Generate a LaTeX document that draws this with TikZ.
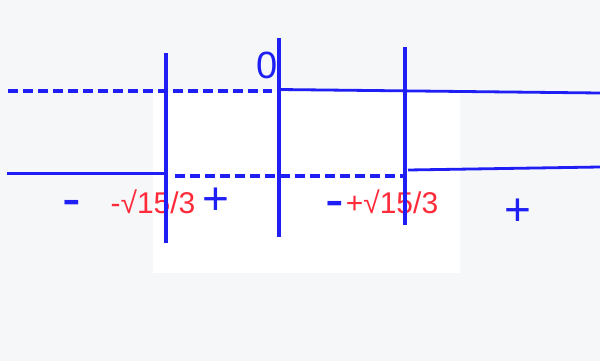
\documentclass[tikz,border=0pt]{standalone}
\usepackage{fontspec}
\setmainfont{Liberation Sans}
\definecolor{bgGray}{HTML}{F6F7F9}
\definecolor{lineBlue}{HTML}{1E1EF5}
\definecolor{labRed}{HTML}{FF2B3B}
\begin{document}
\begin{tikzpicture}[x=1pt,y=-1pt,
  solidline/.style={draw=lineBlue,line width=2.8pt},
  dashline/.style={draw=lineBlue,line width=3.2pt,dash pattern=on 10pt off 5pt},
  vline/.style={draw=lineBlue,line width=3.2pt},
  redlab/.style={text=labRed,inner sep=0pt,anchor=base,font=\fontsize{30}{30}\selectfont},
  sign/.style={text=lineBlue,inner sep=0pt,anchor=base},
]
\fill[bgGray] (0,0) rectangle (600,361);
\useasboundingbox (0,0) rectangle (600,361);
\fill[white] (153,92) rectangle (460,273);

% labels
\node[sign,font=\fontsize{38}{38}\selectfont] (zero) at (267.5,78) {0};
\node[sign,font=\fontsize{56}{56}\selectfont] (m1) at (72,217) {-};
\node[redlab] (r1) at (153,213) {-√15/3};
\node[sign,font=\fontsize{46}{46}\selectfont] (p1) at (216,214) {+};
\node[sign,font=\fontsize{56}{56}\selectfont] (m2) at (335,218) {-};
\node[redlab] (r2) at (392,213) {+√15/3};
\node[sign,font=\fontsize{46}{46}\selectfont] (p2) at (518,225) {+};

% coordinates
\coordinate (v1t) at (166,53);  \coordinate (v1b) at (166,243);
\coordinate (v2t) at (279,38);  \coordinate (v2b) at (279,237);
\coordinate (v3t) at (405,47);  \coordinate (v3b) at (405,225);
\coordinate (tdl) at (8,91);    \coordinate (tdr) at (272,91);
\coordinate (tsl) at (279,89.5);\coordinate (tsr) at (600,93);
\coordinate (lsl) at (7,173.5); \coordinate (lsr) at (166,173.5);
\coordinate (ldl) at (175,176); \coordinate (ldr) at (405,176);
\coordinate (rsl) at (408,170); \coordinate (rsr) at (600,167);

\draw[dashline] (tdl) -- (tdr);
\draw[solidline] (tsl) -- (tsr);
\draw[solidline] (lsl) -- (lsr);
\draw[dashline] (ldl) -- (ldr);
\draw[solidline] (rsl) -- (rsr);

\draw[vline] (v1t) -- (v1b);
\draw[vline] (v2t) -- (v2b);
\draw[vline] (v3t) -- (v3b);
\end{tikzpicture}
\end{document}
